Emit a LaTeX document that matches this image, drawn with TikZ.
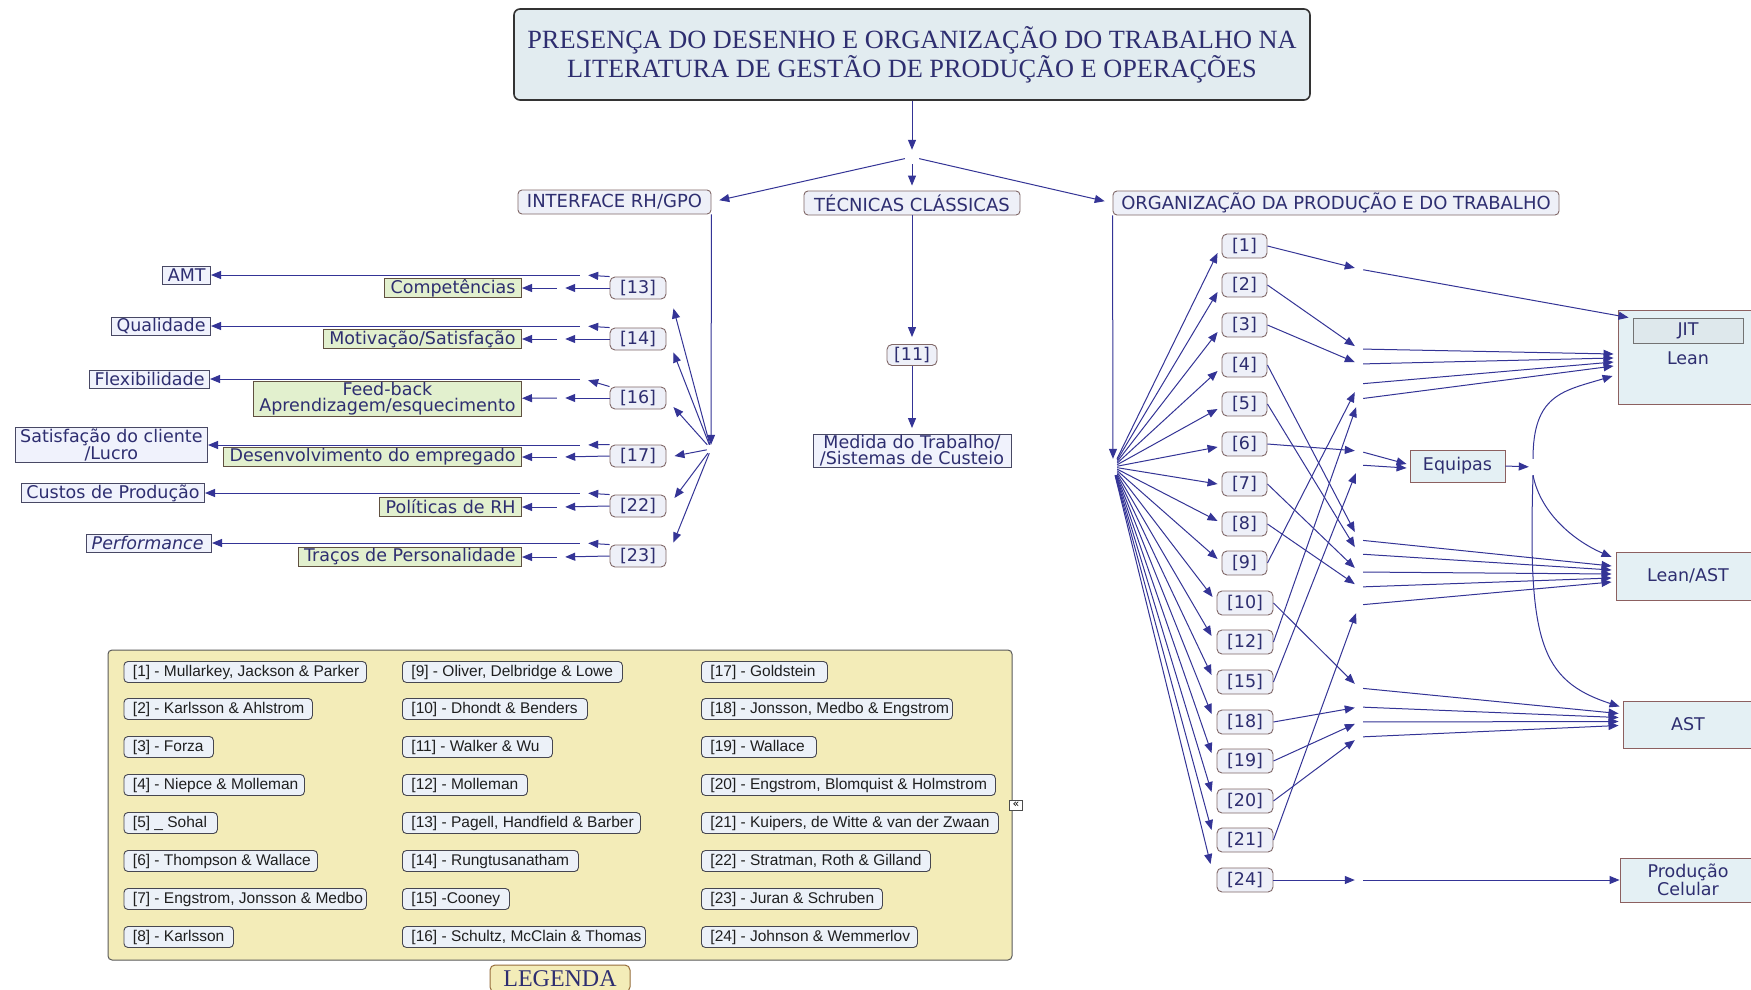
\documentclass[tikz,border=0pt]{standalone}
\usepackage{fontspec}
\setmainfont{DejaVu Sans}
\newfontfamily\titlefont{Liberation Serif}
\newfontfamily\legfont{Liberation Sans}
\usetikzlibrary{arrows.meta,calc}

\definecolor{ink}{RGB}{46,46,112}
\definecolor{wirec}{RGB}{52,52,150}
\definecolor{refedge}{RGB}{128,104,104}
\definecolor{reffill}{RGB}{238,240,248}
\definecolor{outfill}{RGB}{240,242,252}
\definecolor{outedge}{RGB}{72,72,100}
\definecolor{grnfill}{RGB}{226,240,206}
\definecolor{grnedge}{RGB}{96,80,64}
\definecolor{goalfill}{RGB}{228,240,244}
\definecolor{goaledge}{RGB}{140,96,96}
\definecolor{innerfill}{RGB}{222,232,236}
\definecolor{titlefill}{RGB}{226,236,240}
\definecolor{panelfill}{RGB}{243,236,184}
\definecolor{paneledge}{RGB}{90,90,90}
\definecolor{legfill}{RGB}{236,241,248}
\definecolor{legedge}{RGB}{70,70,80}
\definecolor{tabedge}{RGB}{150,110,60}

% one entry of the reference list: name, x of left edge, y, box width, text
\newcommand\legentry[5]{%
  \node[legbox, minimum width=#4pt, anchor=west] (#1) at (#2,#3)
    {\makebox[\dimexpr #4pt-18pt\relax][l]{#5}};}

\begin{document}
\begin{tikzpicture}[x=1pt,y=-1pt,
  font=\fontsize{17.5}{16}\selectfont,
  every node/.style={text=ink},
  wire/.style={draw=wirec, line width=1pt, -{Triangle[length=10pt,width=8pt]}},
  waypt/.style={inner sep=0pt, minimum width=8pt, minimum height=16pt},
  flatpt/.style={inner sep=0pt, minimum width=8pt, minimum height=6pt},
  titlebox/.style={draw=black!80, fill=titlefill, line width=1.6pt, rounded corners=6pt,
    align=center, font=\titlefont\fontsize{26.3}{24.6}\selectfont},
  hdrbox/.style={draw=refedge, fill=reffill, rounded corners=4pt, line width=0.9pt,
    font=\fontsize{18}{18}\selectfont, inner sep=0pt, minimum height=24pt},
  refbox/.style={draw=refedge, fill=reffill, rounded corners=5pt, line width=0.9pt,
    inner sep=0pt, minimum width=56pt, minimum height=22pt},
  outbox/.style={draw=outedge, fill=outfill, line width=0.9pt, inner xsep=5pt,
    inner ysep=1pt, minimum height=18pt, align=center},
  grnbox/.style={draw=grnedge, fill=grnfill, line width=0.9pt, inner xsep=6pt,
    inner ysep=1pt, minimum height=19pt, align=center},
  goalbox/.style={draw=goaledge, fill=goalfill, line width=0.9pt, inner sep=0pt, align=center},
  legbox/.style={draw=legedge, fill=legfill, rounded corners=4pt, line width=0.9pt,
    inner xsep=9pt, inner ysep=0pt, minimum height=21pt,
    font=\legfont\fontsize{15.5}{15.5}\selectfont, text=black!88}
]
\useasboundingbox (0,0) rectangle (1751,990);
\clip (0,0) rectangle (1751,990);
\fill[white] (0,0) rectangle (1751,990);

% ---------- title and the three branches ----------
\node[titlebox, minimum width=796pt, minimum height=91pt] (title) at (912,54.5)
  {PRESENÇA DO DESENHO E ORGANIZAÇÃO DO TRABALHO NA\\LITERATURA DE GESTÃO DE PRODUÇÃO E OPERAÇÕES};
\node[waypt, minimum width=14pt, minimum height=14pt] (J) at (912,157) {};
\node[hdrbox, minimum width=193pt] (ifc) at (614.5,202) {INTERFACE RH/GPO};
\node[hdrbox, minimum width=216pt] (tec) at (912,203) {TÉCNICAS CLÁSSICAS};
\node[hdrbox, minimum width=446pt] (org) at (1336,203) {ORGANIZAÇÃO DA PRODUÇÃO E DO TRABALHO};

\draw[wire] (title) -- (J);
\draw[wire, shorten >=8pt] (J) -- (ifc.east);
\draw[wire, shorten >=5pt] (J) -- (tec.north);
\draw[wire, shorten >=8pt] (J) -- (org.west);

% ---------- classical techniques ----------
\node[refbox, minimum width=50pt, minimum height=21pt] (r11) at (912,355) {[11]};
\node[outbox, minimum width=198pt, minimum height=33pt] (med) at (912,451)
  {Medida do Trabalho/\\/Sistemas de Custeio};
\draw[wire, shorten >=7pt] (tec) -- (r11);
\draw[wire, shorten >=6pt] (r11) -- (med);

% ---------- HR / operations interface ----------
\node[waypt, minimum height=8pt] (L) at (711,449) {};
\draw[wire] (ifc.south east) -- (L);

\node[refbox] (r13) at (638,288) {[13]};
\node[refbox] (r14) at (638,339) {[14]};
\node[refbox] (r16) at (638,398) {[16]};
\node[refbox] (r17) at (638,456) {[17]};
\node[refbox] (r22) at (638,506) {[22]};
\node[refbox] (r23) at (638,556) {[23]};

\draw[wire] (L) -- ($(r13.south east)+(7,9)$);
\draw[wire] (L) -- ($(r14.south east)+(7,2)$);
\draw[wire] (L) -- ($(r16.east)+(7,9)$);
\draw[wire] (L) -- ($(r17.east)+(8,0)$);
\draw[wire] (L) -- ($(r22.east)+(8,-8)$);
\draw[wire] (L) -- ($(r23.north east)+(7,-2)$);

\node[outbox, anchor=east] (amt) at (211,275) {AMT};
\node[outbox, anchor=east] (qual) at (211,326) {Qualidade};
\node[outbox, anchor=east] (flex) at (210,379) {Flexibilidade};
\node[outbox, anchor=east, minimum height=34pt] (satc) at (208,445) {Satisfação do cliente\\/Lucro};
\node[outbox, anchor=east] (cust) at (205,493) {Custos de Produção};
\node[outbox, anchor=east] (perf) at (212,543) {{\itshape Performance}\hspace{3pt}};

\node[grnbox, anchor=east] (comp) at (522,288) {Competências};
\node[grnbox, anchor=east] (motv) at (522,339) {Motivação/Satisfação};
\node[grnbox, anchor=east, minimum height=34pt] (feed) at (522,399) {Feed-back\\Aprendizagem/esquecimento};
\node[grnbox, anchor=east] (desv) at (522,457) {Desenvolvimento do empregado};
\node[grnbox, anchor=east] (polt) at (522,507) {Políticas de RH};
\node[grnbox, anchor=east] (trac) at (522,557) {Traços de Personalidade};

\foreach \r/\uy/\ly/\outer/\inner in
  {13/275/288/amt/comp, 14/326/339/qual/motv, 16/379/398/flex/feed,
   17/445/457/satc/desv, 22/493/507/cust/polt, 23/543/557/perf/trac}{
  \node[flatpt] (u\r) at (584,\uy) {};
  \node[flatpt] (l\r) at (561,\ly) {};
  \draw[wire] (r\r.north west) -- (u\r);
  \draw[wire] (u\r) -- (\outer);
  \draw[wire] (r\r.west) -- (l\r);
  \draw[wire] (l\r) -- (\inner);
}

% ---------- production and work organisation ----------
\node[waypt] (R) at (1113,467) {};
\draw[wire] (org.south west) -- (R);

\foreach \n/\y in {1/246,2/285,3/325,4/365,5/404,6/444,7/484,8/524,9/563}
  \node[refbox, minimum width=45pt, minimum height=24pt] (q\n) at (1244.5,\y) {[\n]};
\foreach \n/\y in {10/603,12/642,15/682,18/722,19/761,20/801,21/840,24/880}
  \node[refbox, minimum width=56pt, minimum height=24pt] (q\n) at (1245,\y) {[\n]};

\foreach \n/\dx/\dy in {1/-4/7,2/-4/7,3/-4/7,4/-4/6,5/-4/5,6/-4/3,7/-4/0,8/-4/-3,9/-4/-4,
    10/-4/-6,12/-5/-6,15/-5/-7,18/-5/-8,19/-5/-8,20/-5/-9,21/-5/-10,24/-6/-16}
  \draw[wire] (R) -- ($(q\n.west)+(\dx,\dy)$);

% targets
\node[goalbox, minimum width=140pt, minimum height=94pt] (jit) at (1688,357) {};
\node[draw=black!55, fill=innerfill, line width=0.9pt, inner sep=0pt,
  minimum width=110pt, minimum height=25pt] (jitin) at (1688,330.5) {JIT};
\node (lean) at (1688,358) {Lean};
\node[goalbox, minimum width=144pt, minimum height=48pt] (la) at (1688,576) {Lean/AST};
\node[goalbox, minimum width=130pt, minimum height=47pt] (ast) at (1688,724.5) {AST};
\node[goalbox, minimum width=136pt, minimum height=44pt] (cel) at (1688,880) {Produção\\Celular};
\node[goalbox, minimum width=95pt, minimum height=32pt] (eq) at (1457.5,466) {Equipas};

% floating junctions between references and targets
\foreach \m/\y in {a1/269,a2/349,a3/364,a4/384,a5/399,e1/451,e2/465,
    b1/540,b2/554,b3/572,b4/587,b5/605,c1/688,c2/707,c3/722,c4/737,d1/880}
  \node[waypt] (\m) at (1359,\y) {};

\foreach \n/\m in {1/a1,2/a2,3/a3,9/a4,12/a5,6/e1,15/e2,4/b1,5/b2,7/b3,8/b4,21/b5,
    10/c1,18/c2,19/c3,20/c4,24/d1}
  \draw[wire] (q\n.east) -- (\m);

\draw[wire] (a1) -- ($(jitin.north west)+(-4,0)$);
\foreach \m/\dy in {a2/-3,a3/1,a4/5,a5/9}
  \draw[wire] (\m) -- ($(jit.west)+(-4,\dy)$);
\draw[wire] (e1) -- ($(eq.west)+(-3,-2)$);
\draw[wire] (e2) -- ($(eq.west)+(-3,2)$);
\foreach \m/\dy in {b1/-10,b2/-6,b3/-2,b4/2,b5/6}
  \draw[wire] (\m) -- ($(la.west)+(-4,\dy)$);
\foreach \m/\dy in {c1/-11,c2/-7,c3/-3,c4/1}
  \draw[wire] (\m) -- ($(ast.west)+(-4,\dy)$);
\draw[wire] (d1) -- (cel.west);

% teams feed the three work models
\node[waypt] (E) at (1533,467) {};
\draw[wire] (eq.east) -- (E);
\draw[wire] (E.north) .. controls +(0,-64) and +(-50,15) .. ($(jit.west)+(-5,19)$);
\draw[wire] (E.south) .. controls +(8,40) and +(-35,-15) .. ($(la.west)+(-4,-19)$);
\draw[wire] (E.south) .. controls +(-5,165) and +(-80,-26) .. ($(ast.west)+(-3,-18)$);

% ---------- reference list ----------
\node[draw=paneledge, fill=panelfill, rounded corners=4pt, line width=1pt,
  minimum width=904pt, minimum height=310pt] (panel) at (560,805) {};
\node[draw=tabedge, fill=panelfill, rounded corners=5pt, line width=1pt,
  minimum width=140pt, minimum height=27pt, inner sep=0pt,
  font=\titlefont\fontsize{24}{24}\selectfont] (tab) at (560,978.5) {LEGENDA};
\node[draw=black!70, fill=white, inner sep=0pt, minimum width=13pt, minimum height=10pt,
  font=\fontsize{11}{11}\selectfont, text=black] (fold) at (1016,805) {«};

\legentry{g1}{123.5}{672}{242.5}{[1] - Mullarkey, Jackson \& Parker}
\legentry{g2}{123.5}{709}{188.5}{[2] - Karlsson \& Ahlstrom}
\legentry{g3}{123.5}{747}{89.5}{[3] - Forza}
\legentry{g4}{123.5}{785}{180.5}{[4] - Niepce \& Molleman}
\legentry{g5}{123.5}{823}{93.5}{[5] \_ Sohal}
\legentry{g6}{123.5}{861}{193.5}{[6] - Thompson \& Wallace}
\legentry{g7}{123.5}{899}{242.5}{[7] - Engstrom, Jonsson \& Medbo}
\legentry{g8}{123.5}{937}{109.5}{[8] - Karlsson}

\legentry{g9}{402}{672}{220}{[9] - Oliver, Delbridge \& Lowe}
\legentry{g10}{402}{709}{185}{[10] - Dhondt \& Benders}
\legentry{g11}{402}{747}{150}{[11] - Walker \& Wu}
\legentry{g12}{402}{785}{125}{[12] - Molleman}
\legentry{g13}{402}{823}{238}{[13] - Pagell, Handfield \& Barber}
\legentry{g14}{402}{861}{176}{[14] - Rungtusanatham}
\legentry{g15}{402}{899}{107}{[15] -Cooney}
\legentry{g16}{402}{937}{243}{[16] - Schultz, McClain \& Thomas}

\legentry{g17}{701}{672}{126}{[17] - Goldstein}
\legentry{g18}{701}{709}{251}{[18] - Jonsson, Medbo \& Engstrom}
\legentry{g19}{701}{747}{115}{[19] - Wallace}
\legentry{g20}{701}{785}{294}{[20] - Engstrom, Blomquist \& Holmstrom}
\legentry{g21}{701}{823}{297}{[21] - Kuipers, de Witte \& van der Zwaan}
\legentry{g22}{701}{861}{229}{[22] - Stratman, Roth \& Gilland}
\legentry{g23}{701}{899}{181}{[23] - Juran \& Schruben}
\legentry{g24}{701}{937}{216}{[24] - Johnson \& Wemmerlov}
\end{tikzpicture}
\end{document}
